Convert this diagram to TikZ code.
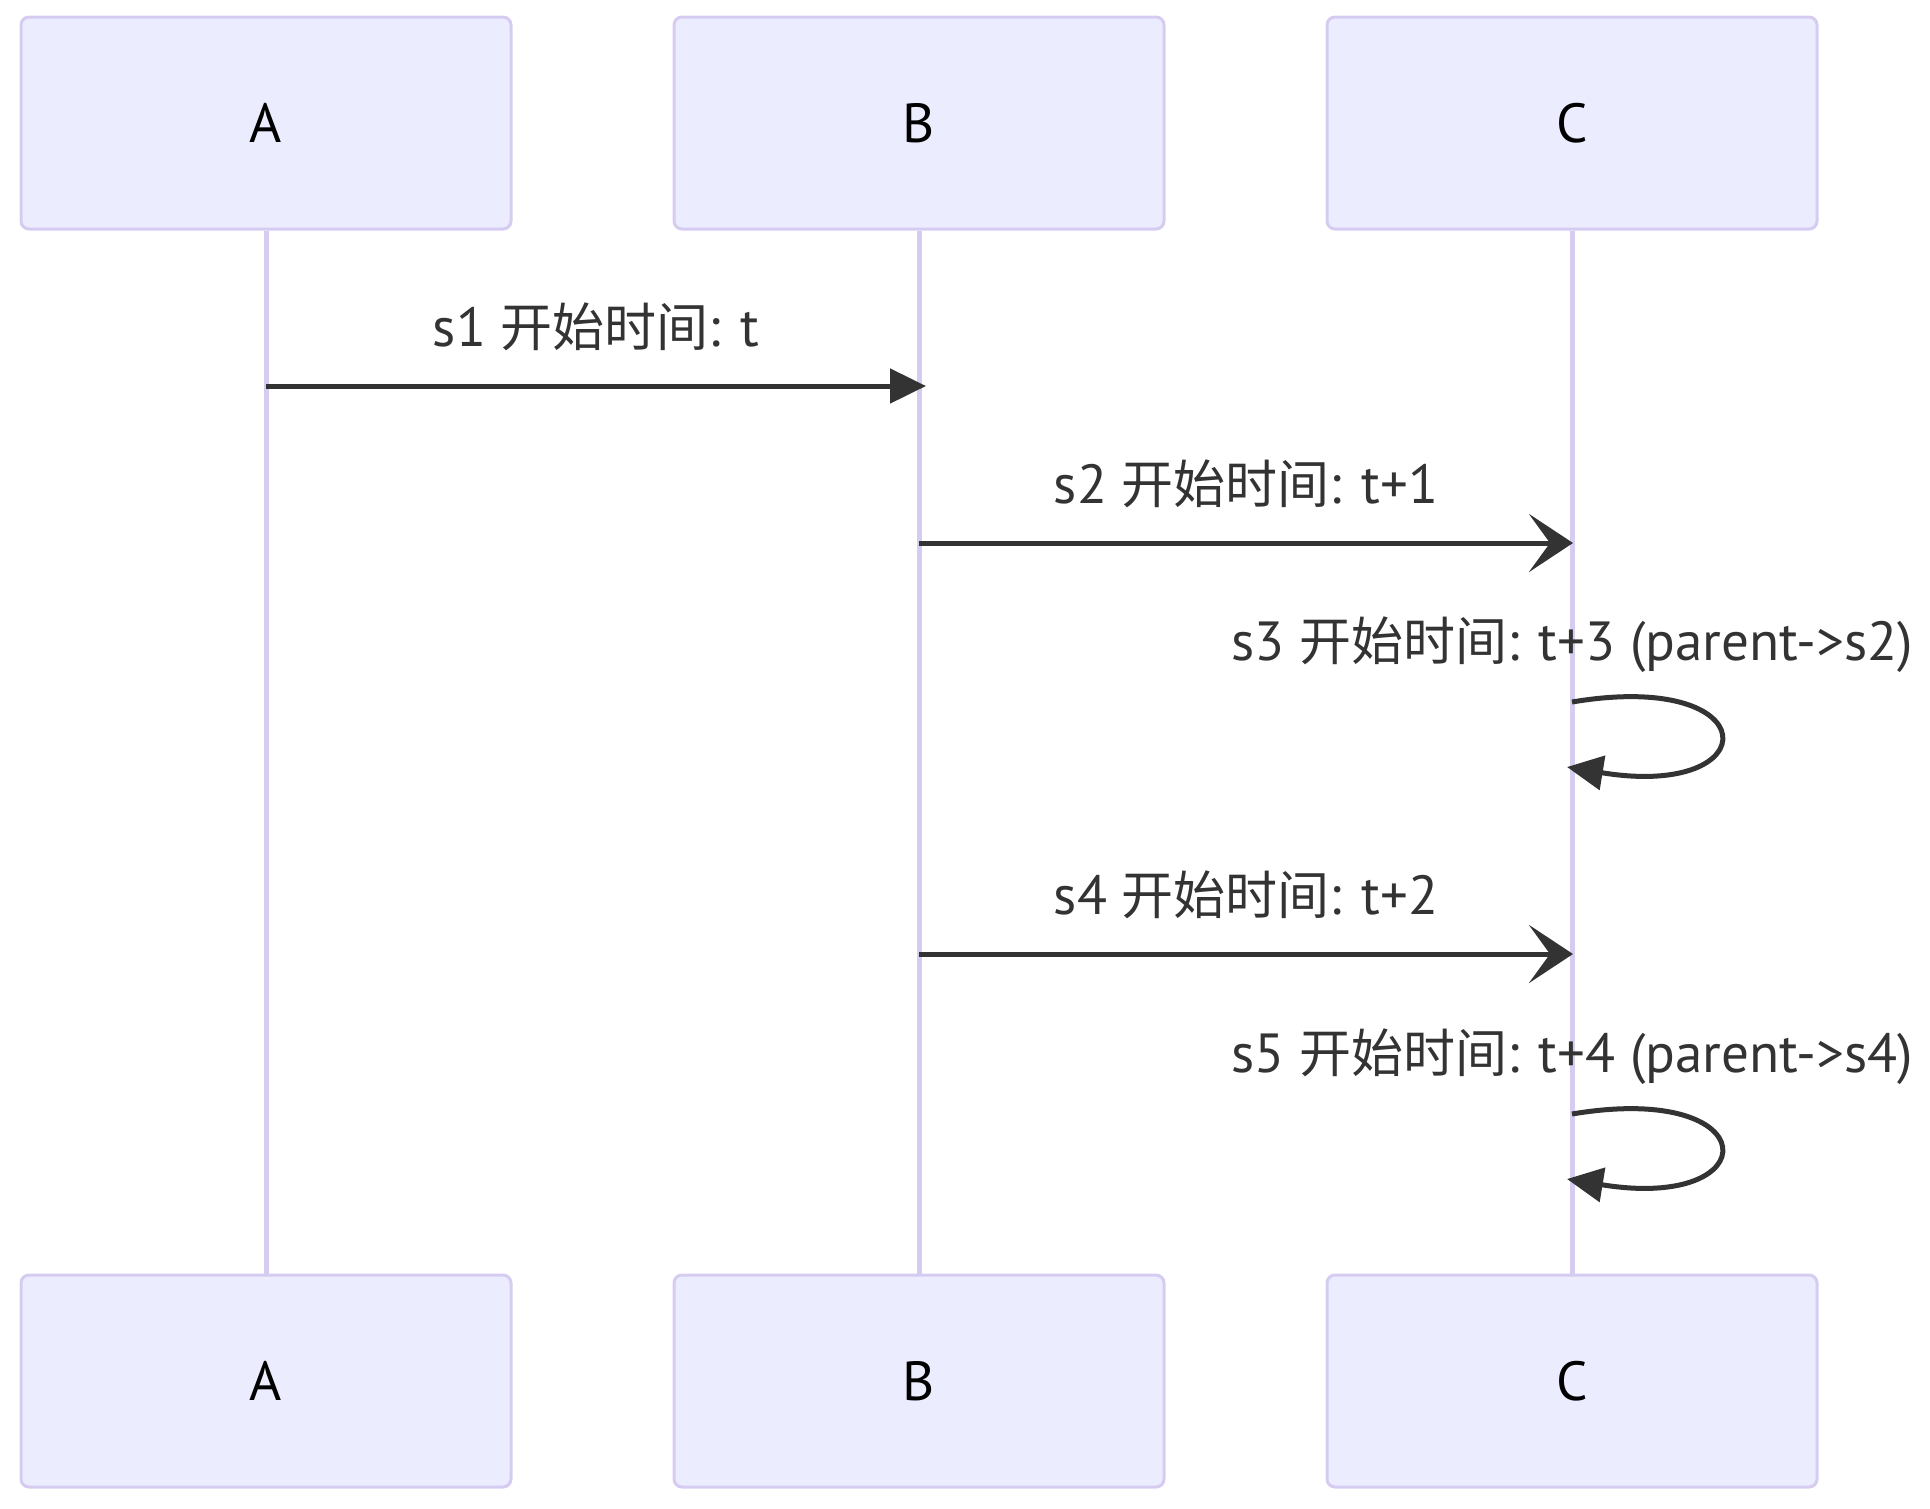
\documentclass[tikz,border=0pt]{standalone}
\usepackage{fontspec}
\setmainfont{PT Sans}[Scale=1.06]
\newfontfamily\cjk{Noto Sans CJK SC}
\usepackage{tikz}
\usetikzlibrary{positioning, arrows.meta}
\tikzstyle{diagram} = [x = 1pt, y = -1pt]
\definecolor{actorFill}{HTML}{ECECFF}
\definecolor{actorBorder}{HTML}{D6CCF2}
\definecolor{signalColor}{HTML}{333333}
\tikzstyle{actorStyle} = [draw=actorBorder, fill=actorFill, line width=3pt, rounded corners=8pt, minimum width=490pt, minimum height=212pt, inner sep=0pt, font=\fontsize{52}{62}\selectfont, text=black]
\tikzstyle{lifeLine} = [draw=actorBorder, line width=5pt]
\tikzstyle{signalLine} = [draw=signalColor, line width=5pt]
\tikzstyle{signalText} = [font=\fontsize{52}{62}\selectfont, text=signalColor, inner sep=0pt, anchor=base]
\tikzstyle{solidHead} = [-{Triangle[length=36pt, width=34pt]}]
\tikzstyle{openHead} = [-{Stealth[length=44pt, width=58pt, inset=21pt]}]
\newcommand{\startTime}{{\cjk 开始时间}}
\newcommand{\signalArrow}[6]{
  \coordinate (#1From) at (#2, #4);
  \coordinate (#1To) at (#3, #4);
  \draw [signalLine, #6] (#1From) -- (#1To);
  \pgfmathsetmacro{\labelX}{(#2 + #3) / 2}
  \node [signalText] (#1Label) at (\labelX, #4 - 40) {#5};
}
\newcommand{\selfSignal}[4]{
  \coordinate (#1From) at (#2, #3);
  \coordinate (#1To) at (#2 - 5, #3 + 65);
  \draw [signalLine, solidHead] (#1From) .. controls +(196, -33) and +(201, 33) .. (#1To);
  \node [signalText] (#1Label) at (#2, #3 - 42) {#4};
}
\begin{document}
\begin{tikzpicture}[diagram]
  \useasboundingbox (0, 0) rectangle (1930, 1508);
  \foreach \name/\xPos in {A/266, B/919, C/1572} {
    \node [actorStyle] (\name Top) at (\xPos, 123) {\name};
    \node [actorStyle] (\name Bottom) at (\xPos, 1381) {\name};
    \draw [lifeLine] (\name Top) -- (\name Bottom);
  }

  \signalArrow{sOne}{266}{926}{386}{s1 \startTime: t}{solidHead}
  \signalArrow{sTwo}{919}{1573}{543}{s2 \startTime: t+1}{openHead}
  \selfSignal{sThree}{1572}{702}{s3 \startTime: t+3 (parent->s2)}
  \signalArrow{sFour}{919}{1573}{954}{s4 \startTime: t+2}{openHead}
  \selfSignal{sFive}{1572}{1114}{s5 \startTime: t+4 (parent->s4)}
\end{tikzpicture}
\end{document}
